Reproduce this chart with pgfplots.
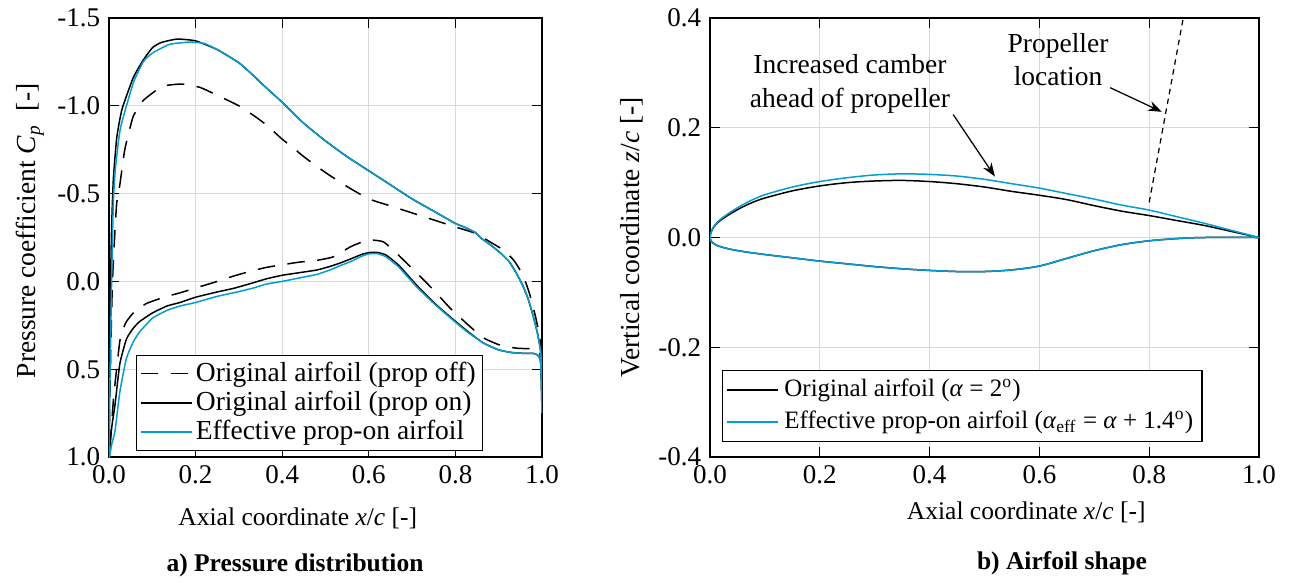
\documentclass[border=0pt]{standalone}
\usepackage{fontspec}
\setmainfont{Liberation Serif}
\usepackage{pgfplots}
\pgfplotsset{compat=1.18}
\usetikzlibrary{arrows.meta}
\definecolor{effblue}{RGB}{0,158,212}

\pgfplotsset{
  matlab/.style={
    scale only axis,
    xmin=0, xmax=1,
    xtick={0,0.2,0.4,0.6,0.8,1},
    xticklabels={0.0,0.2,0.4,0.6,0.8,1.0},
    tick align=inside,
    major tick length=4pt,
    tick style={black, line width=0.5pt},
    axis line style={line width=0.6pt},
    grid=major,
    major grid style={black!15, line width=0.4pt},
    tick label style={font=\fontsize{10.8}{12}\selectfont},
    xlabel style={font=\fontsize{10.2}{12}\selectfont},
    ylabel style={font=\fontsize{11}{12}\selectfont},
    legend style={draw=black, line width=0.5pt,
      fill=white, inner sep=1.5pt, nodes={inner sep=1.2pt}},
    legend cell align=left,
    legend image code/.code={\draw[#1] (0cm,0cm) -- (0.72cm,0cm);},
  }
}

\begin{document}
\begin{tikzpicture}
\useasboundingbox (-43.6pt,-51.2pt) rectangle (473.2pt,182.8pt);

% a) pressure distribution
\begin{axis}[matlab,
  at={(0pt,0pt)}, anchor=south west,
  width=173.2pt, height=175.6pt,
  y dir=reverse,
  ymin=-1.5, ymax=1,
  ytick={-1.5,-1,-0.5,0,0.5,1},
  yticklabels={-1.5,-1.0,-0.5,0.0,0.5,1.0},
  xlabel={Axial coordinate \textit{x}/\textit{c} [-]},
  ylabel={Pressure coefficient \textit{C}\textsubscript{\textit{p}}\ \ [-]},
  xlabel style={at={(axis description cs:0.436,-0.14)}, anchor=center},
  ylabel style={at={(axis description cs:-0.182,0.515)}, anchor=center},
  legend style={at={(0.062,0.014)}, anchor=south west, font=\fontsize{11}{12}\selectfont},
  every axis plot/.append style={smooth, tension=0.3},
]
% prop off
\addplot[black, line width=0.6pt, dash pattern=on 7pt off 5pt] coordinates {
(1.0,0.6) (0.998,0.42) (0.995,0.32) (0.985,0.2) (0.97,0.06) (0.955,-0.04)
(0.935,-0.12) (0.91,-0.18) (0.88,-0.225) (0.845,-0.275) (0.80,-0.31) (0.75,-0.35)
(0.70,-0.39) (0.65,-0.43) (0.60,-0.47) (0.55,-0.54) (0.50,-0.62) (0.45,-0.71)
(0.426,-0.76) (0.40,-0.81) (0.364,-0.89) (0.337,-0.94) (0.30,-1.0) (0.25,-1.06)
(0.21,-1.105) (0.168,-1.124) (0.13,-1.115) (0.11,-1.09) (0.079,-1.03) (0.056,-0.94)
(0.04,-0.79) (0.035,-0.73) (0.025,-0.55) (0.018,-0.45) (0.014,-0.3) (0.008,0.0)
(0.004,0.4) (0.0,1.0)
(0.005,0.85) (0.01,0.68) (0.014,0.58) (0.025,0.34) (0.033,0.27) (0.04,0.23)
(0.056,0.18) (0.087,0.125) (0.134,0.085) (0.164,0.065) (0.21,0.03) (0.25,0.0)
(0.287,-0.03) (0.33,-0.06) (0.364,-0.08) (0.40,-0.095) (0.44,-0.11) (0.48,-0.12)
(0.518,-0.14) (0.556,-0.195) (0.585,-0.225) (0.61,-0.235) (0.634,-0.225) (0.66,-0.17)
(0.71,-0.05) (0.75,0.05) (0.787,0.15) (0.826,0.24) (0.864,0.32) (0.90,0.36)
(0.94,0.38) (0.985,0.385) (0.995,0.40) (1.0,0.6)
};
% prop on
\addplot[black, line width=0.6pt] coordinates {
(1.0,0.75) (0.999,0.5) (0.997,0.40) (0.99,0.30) (0.98,0.20) (0.968,0.10)
(0.955,0.02) (0.94,-0.05) (0.925,-0.11) (0.905,-0.16) (0.88,-0.21) (0.86,-0.245)
(0.845,-0.28) (0.82,-0.31) (0.80,-0.33) (0.75,-0.40) (0.70,-0.47) (0.65,-0.55)
(0.60,-0.63) (0.55,-0.71) (0.50,-0.80) (0.45,-0.90) (0.40,-1.02) (0.36,-1.11)
(0.33,-1.18) (0.30,-1.245) (0.25,-1.32) (0.20,-1.37) (0.157,-1.38) (0.12,-1.36)
(0.10,-1.33) (0.079,-1.26) (0.056,-1.16) (0.03,-0.98) (0.018,-0.82) (0.01,-0.58)
(0.006,-0.3) (0.003,0.1) (0.001,0.55) (0.0,1.0)
(0.004,0.88) (0.008,0.8) (0.014,0.70) (0.025,0.47) (0.04,0.33) (0.055,0.27)
(0.07,0.23) (0.10,0.18) (0.134,0.14) (0.164,0.12) (0.20,0.09) (0.25,0.06)
(0.287,0.04) (0.33,0.01) (0.364,-0.015) (0.40,-0.035) (0.44,-0.05) (0.48,-0.065)
(0.51,-0.085) (0.534,-0.105) (0.56,-0.13) (0.585,-0.155) (0.603,-0.165) (0.62,-0.165)
(0.64,-0.15) (0.67,-0.09) (0.71,0.02) (0.75,0.12) (0.787,0.20) (0.826,0.28)
(0.864,0.35) (0.90,0.39) (0.93,0.405) (0.96,0.41) (0.98,0.41) (0.99,0.42)
(0.997,0.46) (1.0,0.75)
};
% effective airfoil
\addplot[effblue, line width=0.6pt] coordinates {
(1.0,0.75) (0.999,0.5) (0.997,0.40) (0.99,0.30) (0.98,0.20) (0.968,0.10)
(0.955,0.02) (0.94,-0.05) (0.925,-0.11) (0.905,-0.16) (0.88,-0.21) (0.86,-0.245)
(0.845,-0.28) (0.82,-0.31) (0.80,-0.33) (0.75,-0.40) (0.70,-0.47) (0.65,-0.55)
(0.60,-0.63) (0.55,-0.71) (0.50,-0.80) (0.45,-0.90) (0.40,-1.02) (0.36,-1.11)
(0.33,-1.18) (0.30,-1.245) (0.25,-1.32) (0.22,-1.355) (0.187,-1.363) (0.14,-1.35)
(0.10,-1.30) (0.079,-1.25) (0.056,-1.13) (0.027,-0.88) (0.018,-0.72) (0.014,-0.62)
(0.01,-0.45) (0.006,0.0) (0.002,0.6) (0.0,1.0)
(0.006,0.93) (0.014,0.85) (0.025,0.63) (0.04,0.44) (0.055,0.35) (0.07,0.29)
(0.10,0.21) (0.134,0.165) (0.164,0.14) (0.20,0.12) (0.25,0.085) (0.287,0.065)
(0.33,0.04) (0.364,0.015) (0.40,0.0) (0.44,-0.02) (0.48,-0.04) (0.51,-0.065)
(0.534,-0.09) (0.56,-0.115) (0.585,-0.145) (0.603,-0.158) (0.62,-0.158) (0.64,-0.14)
(0.67,-0.08) (0.71,0.03) (0.75,0.125) (0.787,0.205) (0.826,0.285) (0.864,0.35)
(0.90,0.39) (0.93,0.405) (0.96,0.41) (0.98,0.41) (0.99,0.42) (0.997,0.46) (1.0,0.75)
};
\legend{Original airfoil (prop off), Original airfoil (prop on), Effective prop-on airfoil}
\end{axis}

% b) airfoil shape
\begin{axis}[matlab,
  at={(240.4pt,0pt)}, anchor=south west,
  width=219.6pt, height=175.6pt,
  ymin=-0.4, ymax=0.4,
  ytick={-0.4,-0.2,0,0.2,0.4},
  yticklabels={-0.4,-0.2,0.0,0.2,0.4},
  xlabel={Axial coordinate \textit{x}/\textit{c} [-]},
  ylabel={Vertical coordinate \textit{z}/\textit{c} [-]},
  xlabel style={at={(axis description cs:0.576,-0.127)}, anchor=center},
  ylabel style={at={(axis description cs:-0.142,0.5)}, anchor=center},
  legend style={at={(0.022,0.034)}, anchor=south west, font=\fontsize{10}{12}\selectfont,
    nodes={inner sep=2.1pt}},
]
\addplot[black, line width=0.6pt, smooth, tension=0.5] coordinates {
(1.0,0.0) (0.95,0.011) (0.90,0.022) (0.85,0.031) (0.80,0.040) (0.75,0.048)
(0.70,0.058) (0.65,0.069) (0.60,0.077) (0.55,0.084) (0.50,0.092) (0.45,0.098)
(0.40,0.102) (0.35,0.104) (0.30,0.103) (0.25,0.100) (0.20,0.094) (0.15,0.085)
(0.10,0.072) (0.08,0.065) (0.06,0.056) (0.04,0.045) (0.02,0.032) (0.01,0.023)
(0.005,0.016) (0.002,0.010) (0.0,0.0)
(0.002,-0.007) (0.01,-0.013) (0.02,-0.017) (0.04,-0.022) (0.07,-0.027) (0.10,-0.031)
(0.15,-0.037) (0.20,-0.043) (0.25,-0.048) (0.30,-0.053) (0.35,-0.057) (0.40,-0.060)
(0.45,-0.062) (0.50,-0.062) (0.55,-0.059) (0.60,-0.052) (0.65,-0.038) (0.70,-0.024)
(0.75,-0.013) (0.80,-0.006) (0.85,-0.002) (0.90,0.0) (1.0,0.0)
};
\addplot[effblue, line width=0.6pt, smooth, tension=0.5] coordinates {
(1.0,0.0) (0.95,0.013) (0.90,0.026) (0.85,0.038) (0.80,0.050) (0.75,0.059)
(0.70,0.070) (0.65,0.080) (0.60,0.090) (0.55,0.098) (0.50,0.106) (0.45,0.112)
(0.40,0.115) (0.35,0.116) (0.30,0.114) (0.25,0.109) (0.20,0.102) (0.15,0.092)
(0.10,0.078) (0.08,0.070) (0.06,0.060) (0.04,0.048) (0.02,0.034) (0.01,0.024)
(0.005,0.017) (0.002,0.010) (0.0,0.0)
(0.002,-0.007) (0.01,-0.013) (0.02,-0.017) (0.04,-0.022) (0.07,-0.027) (0.10,-0.031)
(0.15,-0.037) (0.20,-0.043) (0.25,-0.048) (0.30,-0.053) (0.35,-0.057) (0.40,-0.060)
(0.45,-0.062) (0.50,-0.062) (0.55,-0.059) (0.60,-0.052) (0.65,-0.038) (0.70,-0.024)
(0.75,-0.013) (0.80,-0.006) (0.85,-0.002) (0.90,0.0) (1.0,0.0)
};
\addplot[black, line width=0.5pt, dash pattern=on 2.2pt off 1.8pt, forget plot]
  coordinates {(0.8,0.064) (0.862,0.4)};
\legend{Original airfoil (\textit{α} = 2\textsuperscript{o}),
  Effective prop-on airfoil (\textit{α}\textsubscript{eff} = \textit{α} + 1.4\textsuperscript{o})}
\node[align=center, font=\fontsize{11}{13.5}\selectfont] at (axis cs:0.255,0.28)
  {Increased camber\\ahead of propeller};
\node[align=center, font=\fontsize{11}{13.5}\selectfont] at (axis cs:0.634,0.324)
  {Propeller\\location};
\draw[black, line width=0.5pt, -{Stealth[length=5.5pt, width=4pt]}]
  (axis cs:0.443,0.224) -- (axis cs:0.519,0.111);
\draw[black, line width=0.5pt, -{Stealth[length=5.5pt, width=4pt]}]
  (axis cs:0.729,0.273) -- (axis cs:0.823,0.229);
\end{axis}

\node[font=\bfseries\fontsize{10.2}{12}\selectfont] at (74.4pt,-43.2pt) {a) Pressure distribution};
\node[font=\bfseries\fontsize{10.2}{12}\selectfont] at (381.2pt,-42.4pt) {b) Airfoil shape};
\end{tikzpicture}
\end{document}
